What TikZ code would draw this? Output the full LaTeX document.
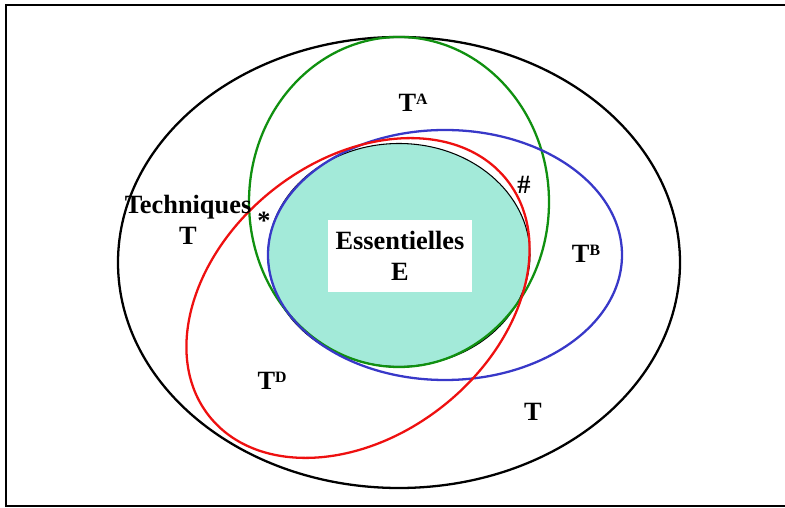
\documentclass[tikz,border=0pt]{standalone}
\usepackage{fontspec}
\setmainfont{Liberation Serif}
\definecolor{essfill}{HTML}{A3EAD9}
\definecolor{cgreen}{HTML}{109010}
\definecolor{cblue}{HTML}{3838C8}
\definecolor{cred}{HTML}{EE1010}
\tikzset{
  lbl/.style={font=\fontsize{15}{18}\selectfont\bfseries, inner sep=0pt, align=center},
  ens/.style={line width=1.3pt}
}
\newcommand{\Tsup}[1]{T\raisebox{0.55ex}{\fontsize{9}{9}\selectfont #1}}
\begin{document}
\begin{tikzpicture}
\useasboundingbox (0,0) rectangle (15.7,10.16);
\draw[line width=1.5pt] (15.75,10.06) -- (0.12,10.06) -- (0.12,0.04) -- (15.75,0.04);

\draw[ens,black] (7.98,4.91) ellipse (5.62cm and 4.51cm);
\draw[fill=essfill,draw=black,line width=0.6pt] (7.98,5.06) ellipse (2.62cm and 2.23cm);
\draw[ens,cgreen] (7.98,6.12) ellipse (3.0cm and 3.3cm);
\draw[ens,cblue] (8.9,5.06) ellipse (3.54cm and 2.5cm);
\draw[ens,cred,rotate around={38.5:(7.16,4.2)}] (7.16,4.2) ellipse (3.8cm and 2.75cm);

\node[lbl,fill=white,minimum width=2.88cm,minimum height=1.44cm] (ess) at (8.0,5.04) {Essentielles\\E};
\node[lbl] (tech) at (3.76,5.76) {Techniques\\T};
\node[lbl] (ta) at (8.26,8.1) {\Tsup{A}};
\node[lbl] (tb) at (11.72,5.09) {\Tsup{B}};
\node[lbl] (td) at (5.44,2.55) {\Tsup{D}};
\node[lbl] (tout) at (10.66,1.93) {T};
\node[lbl] (hash) at (10.48,6.47) {\#};
\node[lbl] (star) at (5.28,5.74) {*};
\end{tikzpicture}
\end{document}
